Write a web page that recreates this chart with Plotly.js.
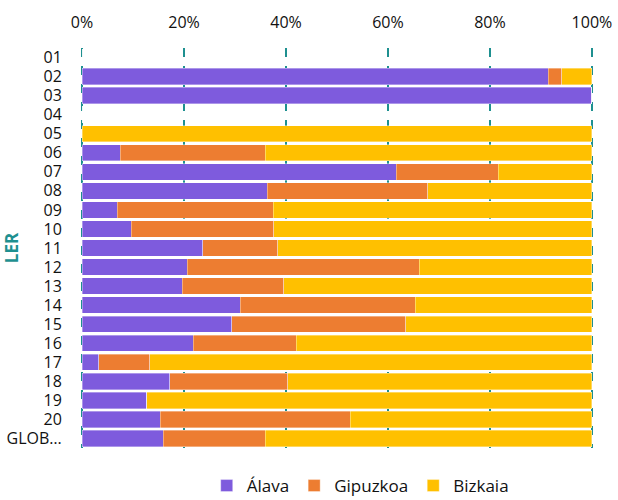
<!DOCTYPE html>
<html><head><meta charset="utf-8">
<script src="https://cdn.plot.ly/plotly-3.0.1.min.js"></script>
<style>body{margin:0;padding:0;}#chart{width:618px;height:500px;}</style>
</head><body><div id="chart"></div>
<script>
const categories = ["01","02","03","04","05","06","07","08","09","10","11","12","13","14","15","16","17","18","19","20","GLOB…"];
const alava =    [0, 91.4, 100, 0, 0,   7.5, 61.6, 36.3, 6.9, 9.6, 23.7, 20.6, 19.6, 31.0, 29.4, 21.8, 3.3, 17.2, 12.7, 15.3, 15.9];
const gipuzkoa = [0, 2.7,  0,   0, 0,   28.4, 20.0, 31.5, 30.6, 28.0, 14.7, 45.5, 20.0, 34.3, 34.1, 20.2, 10.0, 23.1, 0, 37.3, 20.0];
const bizkaia =  [0, 5.9,  0,   0, 100, 64.1, 18.4, 32.2, 62.5, 62.4, 61.6, 33.9, 60.4, 34.7, 36.5, 58.0, 86.7, 59.7, 87.3, 47.4, 64.1];
const seriesNames = ["Álava","Gipuzkoa","Bizkaia"];
const xTicks = [0,20,40,60,80,100];
const xTickText = ["0%","20%","40%","60%","80%","100%"];

const colors = ["#7E5BDD","#ED7D31","#FFC000"];
const vals = [alava, gipuzkoa, bizkaia];
const traces = vals.map((v,i)=>({
  type:'bar', orientation:'h', name:seriesNames[i], x:v, y:categories,
  marker:{color:colors[i], line:{color:'rgba(255,255,255,0.6)', width:0.6}},
  hoverinfo:'x+name'
}));
const font = "Open Sans, Noto Sans, sans-serif";
const layout = {
  width:618, height:500,
  margin:{l:79, r:23, t:48, b:52, autoexpand:false},
  barmode:'stack', bargap:0.14,
  paper_bgcolor:'#fff', plot_bgcolor:'#fff',
  font:{family:font, size:15, color:'#111'},
  xaxis:{side:'top', range:[-0.6,100.6], tickmode:'array', tickvals:xTicks, ticktext:xTickText,
    showgrid:true, gridcolor:'#1E9090', griddash:'dash', gridwidth:1.3,
    zeroline:false, showline:false, ticks:'outside', ticklen:13, tickcolor:'rgba(0,0,0,0)',
    tickfont:{size:16, family:font, color:'#111'}, fixedrange:true, automargin:false},
  yaxis:{type:'category', tickmode:'array', tickvals:categories, ticktext:categories,
    categoryorder:'array', categoryarray:categories, autorange:'reversed',
    showgrid:false, zeroline:false, showline:false,
    ticks:'outside', ticklen:13, tickcolor:'rgba(0,0,0,0)',
    tickfont:{size:16, family:font, color:'#111'}, automargin:false,
    title:{text:'<b>LER</b>', font:{size:17, color:'#1E9090', family:font}, standoff:6}},
  legend:{orientation:'h', x:0.545, xanchor:'center', yref:'container', y:0.028, yanchor:'middle',
    font:{size:17, family:font, color:'#111'}, itemwidth:30, traceorder:'normal'},
  showlegend:true
};
Plotly.newPlot('chart', traces, layout, {displayModeBar:false, staticPlot:true});
</script></body></html>
